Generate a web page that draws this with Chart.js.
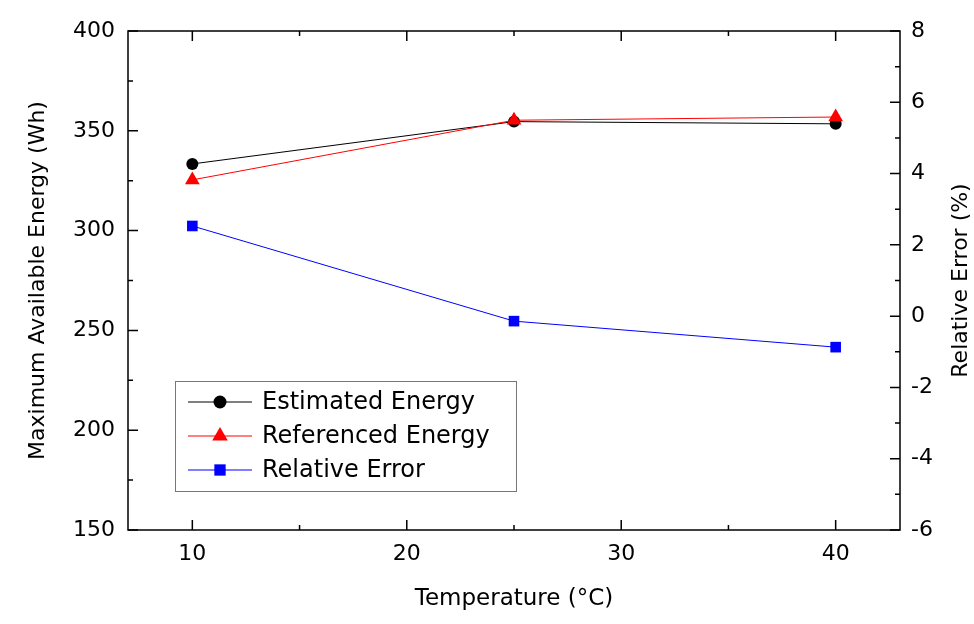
<!DOCTYPE html>
<html lang="en">
<head>
<meta charset="utf-8">
<title>Maximum Available Energy vs Temperature</title>
<script src="https://cdn.jsdelivr.net/npm/chart.js@4.4.1/dist/chart.umd.min.js"></script>
<style>
  body { margin: 0; background: #fff; }
</style>
</head>
<body>
<canvas id="myChart" width="974" height="624"></canvas>
<script>
// values
var temps = [10, 25, 40];
var estimated = [333.4, 354.6, 353.5];
var referenced = [325.4, 355.3, 356.9];
var relError = [2.53, -0.14, -0.87];

var xTicks = [10, 20, 30, 40];
var xMinor = [15, 25, 35];
var leftTicks = [150, 200, 250, 300, 350, 400];
var leftMinor = [175, 225, 275, 325, 375];
var rightTicks = [-6, -4, -2, 0, 2, 4, 6, 8];
var rightMinor = [-5, -3, -1, 1, 3, 5, 7];

var FONT = 'DejaVu Sans';
var rightTitle = 'Relative Error (%)';

function pts(ys) {
  return temps.map(function (t, i) { return { x: t, y: ys[i] }; });
}
function setTicks(arr) {
  return function (scale) { scale.ticks = arr.map(function (v) { return { value: v }; }); };
}

// box round the plot, ticks pointing inwards
var framePlugin = {
  id: 'frame',
  beforeDatasetsDraw: function (chart) {
    var ctx = chart.ctx, a = chart.chartArea;
    var x = chart.scales.x, y = chart.scales.y, y1 = chart.scales.y1;
    ctx.save();
    ctx.strokeStyle = '#000';
    ctx.lineWidth = 1.5;
    ctx.strokeRect(a.left, a.top, a.right - a.left, a.bottom - a.top);
    ctx.beginPath();
    function xt(list, len) {
      list.forEach(function (v) {
        var px = x.getPixelForValue(v);
        ctx.moveTo(px, a.bottom); ctx.lineTo(px, a.bottom - len);
        ctx.moveTo(px, a.top); ctx.lineTo(px, a.top + len);
      });
    }
    xt(xTicks, 10); xt(xMinor, 5);
    leftTicks.forEach(function (v) { var p = y.getPixelForValue(v); ctx.moveTo(a.left, p); ctx.lineTo(a.left + 10, p); });
    leftMinor.forEach(function (v) { var p = y.getPixelForValue(v); ctx.moveTo(a.left, p); ctx.lineTo(a.left + 5, p); });
    rightTicks.forEach(function (v) { var p = y1.getPixelForValue(v); ctx.moveTo(a.right, p); ctx.lineTo(a.right - 10, p); });
    rightMinor.forEach(function (v) { var p = y1.getPixelForValue(v); ctx.moveTo(a.right, p); ctx.lineTo(a.right - 5, p); });
    ctx.stroke();

    // right axis title reads bottom to top, like the left one
    ctx.translate(a.right + 61, (a.top + a.bottom) / 2);
    ctx.rotate(-Math.PI / 2);
    ctx.font = '22px "' + FONT + '"';
    ctx.fillStyle = '#000';
    ctx.textAlign = 'center';
    ctx.textBaseline = 'middle';
    ctx.fillText(rightTitle, 0, 0);
    ctx.restore();
  }
};

// legend box inside the plot, lower left
var legendPlugin = {
  id: 'boxLegend',
  afterDraw: function (chart) {
    var ctx = chart.ctx, a = chart.chartArea;
    var bx = a.left + 47, by = a.bottom - 149, bw = 341, bh = 110;
    ctx.save();
    ctx.fillStyle = '#fff';
    ctx.fillRect(bx, by, bw, bh);
    ctx.strokeStyle = '#777';
    ctx.lineWidth = 1;
    ctx.strokeRect(bx + 0.5, by + 0.5, bw, bh);
    ctx.font = '24px "' + FONT + '"';
    ctx.textBaseline = 'middle';
    ctx.textAlign = 'left';
    chart.data.datasets.forEach(function (ds, i) {
      var cy = by + 21 + i * 34;
      ctx.strokeStyle = ds.borderColor;
      ctx.lineWidth = 1;
      ctx.beginPath();
      ctx.moveTo(bx + 13, cy); ctx.lineTo(bx + 77, cy);
      ctx.stroke();
      ctx.fillStyle = ds.pointBackgroundColor;
      ctx.strokeStyle = ds.pointBackgroundColor;
      Chart.helpers.drawPoint(ctx, { pointStyle: ds.pointStyle, radius: ds.pointRadius + 0.5, rotation: 0, borderWidth: 0 }, bx + 45, cy);
      ctx.fillStyle = '#000';
      ctx.fillText(ds.label, bx + 87, cy + 1);
    });
    ctx.restore();
  }
};

var tickFont = { family: FONT, size: 22 };
var titleFont = { family: FONT, size: 22 };

var config = {
  type: 'line',
  data: {
    datasets: [{
      label: 'Estimated Energy',
      data: pts(estimated),
      yAxisID: 'y',
      borderColor: '#000',
      pointBackgroundColor: '#000',
      pointBorderWidth: 0,
      pointStyle: 'circle',
      pointRadius: 6,
      borderWidth: 1,
      order: 3
    }, {
      label: 'Referenced Energy',
      data: pts(referenced),
      yAxisID: 'y',
      borderColor: '#ff0000',
      pointBackgroundColor: '#ff0000',
      pointBorderWidth: 0,
      pointStyle: 'triangle',
      pointRadius: 8.5,
      borderWidth: 1,
      order: 2
    }, {
      label: 'Relative Error',
      data: pts(relError),
      yAxisID: 'y1',
      borderColor: '#0000ff',
      pointBackgroundColor: '#0000ff',
      pointBorderWidth: 0,
      pointStyle: 'rect',
      pointRadius: 7.5,
      borderWidth: 1,
      order: 1
    }]
  },
  options: {
    responsive: false,
    animation: false,
    devicePixelRatio: 1,
    layout: { padding: { top: 31, left: 0, right: 0, bottom: 0 } },
    scales: {
      x: {
        type: 'linear',
        min: 7, max: 43,
        afterBuildTicks: setTicks(xTicks),
        afterFit: function (s) { s.height = 94; },
        grid: { display: false, drawTicks: false },
        border: { display: false },
        ticks: { font: tickFont, color: '#000', padding: 11, maxRotation: 0 },
        title: { display: true, text: 'Temperature (°C)', font: { family: FONT, size: 23 }, color: '#000', padding: { top: 0, bottom: 11 } }
      },
      y: {
        position: 'left',
        min: 150, max: 400,
        afterBuildTicks: setTicks(leftTicks),
        afterFit: function (s) { s.width = 128; },
        grid: { display: false, drawTicks: false },
        border: { display: false },
        ticks: { font: tickFont, color: '#000', padding: 13 },
        title: { display: true, text: 'Maximum Available Energy (Wh)', font: titleFont, color: '#000', padding: { top: 25, bottom: 0 } }
      },
      y1: {
        position: 'right',
        min: -6, max: 8,
        afterBuildTicks: setTicks(rightTicks),
        afterFit: function (s) { s.width = 74; },
        grid: { display: false, drawTicks: false },
        border: { display: false },
        ticks: { font: tickFont, color: '#000', padding: 11 },
        title: { display: false }
      }
    },
    plugins: {
      legend: { display: false },
      tooltip: { enabled: false }
    }
  },
  plugins: [framePlugin, legendPlugin]
};

var myChart = new Chart(document.getElementById('myChart'), config);
</script>
</body>
</html>
